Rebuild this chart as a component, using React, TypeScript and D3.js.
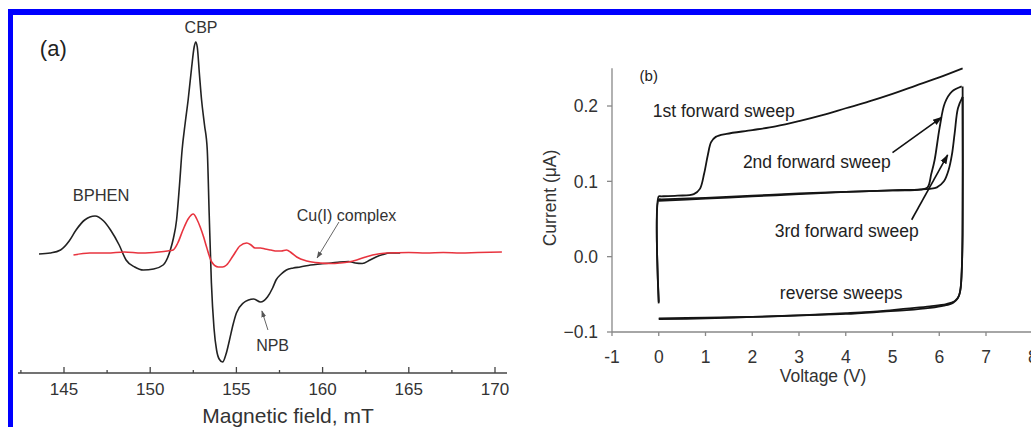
import React from "react";
import * as d3 from "d3";

const W = 1031;
const H = 427;
const FONT = "'Liberation Sans', Arial, Helvetica, sans-serif";

// ---- panel (a): EPR spectra, [field (mT), signal (a.u.)]
const fieldTicks = [145, 150, 155, 160, 165, 170];
const fieldMinorTicks = [142.5, 147.5, 152.5, 157.5, 162.5, 167.5];

const oledSpectrum: [number, number][] = [
  [143.55, -1], [144.2, 0], [144.8, 3], [145.3, 12], [145.7, 23], [146.2, 33],
  [146.8, 37], [147.3, 32], [147.7, 23], [148.2, 8], [148.6, -7], [149.1, -14],
  [149.6, -17], [150.2, -16], [150.75, -12], [151.15, 2], [151.35, 15], [151.53, 33],
  [151.7, 68], [151.85, 103], [152.03, 130], [152.2, 153], [152.4, 185], [152.55, 206],
  [152.64, 211], [152.73, 206], [152.85, 180], [152.98, 153], [153.15, 128], [153.31, 103],
  [153.42, 40], [153.55, -30], [153.7, -75], [153.85, -97], [154.0, -106], [154.2, -109],
  [154.4, -101], [154.6, -87], [154.8, -72], [155.0, -60], [155.4, -50], [155.7, -47],
  [156.0, -46], [156.4, -49], [156.8, -44], [157.1, -35], [157.3, -27], [157.6, -21],
  [157.9, -17], [158.3, -15], [158.7, -14], [159.3, -12], [159.85, -11], [160.5, -10],
  [161.0, -9], [161.5, -8.5], [161.9, -10], [162.3, -10.5], [162.75, -7], [163.1, -4],
  [163.5, -1.5], [163.9, 0], [164.5, 0],
];

const cuComplexSpectrum: [number, number][] = [
  [145.55, -2], [146.5, 0], [147.5, 0], [148.5, 1], [149.5, 0], [150.5, 1], [151.0, 2],
  [151.33, 3], [151.6, 10], [151.9, 23], [152.2, 34], [152.5, 39], [152.7, 34], [152.9, 26],
  [153.1, 16], [153.27, 6], [153.57, -9], [153.95, -14], [154.2, -14], [154.43, -12],
  [154.8, -3], [155.2, 7], [155.6, 10], [155.85, 8], [156.08, 5], [156.4, 5], [156.66, 4],
  [157.0, 3], [157.34, 2], [157.6, 2], [157.9, 3], [158.2, 0], [158.5, -4], [159.08, -8],
  [159.85, -10], [160.5, -10.5], [161.0, -10], [161.5, -9], [161.98, -7], [162.5, -4],
  [162.9, -2], [163.7, 0], [165, 0.5], [166, 0], [167, 0.5], [168, 0], [169, 0.5], [170.4, 1],
];

// ---- panel (b): I-V sweeps, [voltage (V), current (uA)]
const voltageTicks = [-1, 0, 1, 2, 3, 4, 5, 6, 7, 8];
const currentTicks = [-0.1, 0, 0.1, 0.2];

const forwardSweep1: [number, number][] = [
  [0, -0.062], [0, 0.08], [0.05, 0.0801], [0.4, 0.081], [0.75, 0.083], [0.88, 0.09], [0.97, 0.11],
  [1.05, 0.135], [1.12, 0.152], [1.22, 0.159], [1.45, 0.163], [2.0, 0.168], [2.5, 0.173],
  [3.0, 0.18], [3.5, 0.188], [4.0, 0.197], [4.5, 0.206], [5.0, 0.216], [5.5, 0.227],
  [6.0, 0.238], [6.5, 0.25],
];
const forwardSweep2: [number, number][] = [
  [0, -0.06], [0, 0.076], [0.05, 0.0761], [1, 0.078], [2, 0.081], [3, 0.084], [4, 0.086], [5, 0.088],
  [5.6, 0.089], [5.75, 0.092], [5.83, 0.11], [5.9, 0.128], [6.01, 0.172], [6.12, 0.204],
  [6.27, 0.219], [6.48, 0.226],
];
const forwardSweep3: [number, number][] = [
  [0, 0.074], [1, 0.077], [2, 0.08], [3, 0.083], [4, 0.086], [5, 0.088], [5.8, 0.09],
  [5.95, 0.092], [6.1, 0.1], [6.2, 0.115], [6.27, 0.135], [6.33, 0.164], [6.4, 0.197],
  [6.5, 0.212],
];
const reverseSweepA: [number, number][] = [
  [6.5, 0.226], [6.5, 0.03], [6.48, -0.02], [6.45, -0.045], [6.4, -0.055], [6.3, -0.061],
  [6.1, -0.065], [5.8, -0.068], [5.3, -0.071], [4.8, -0.073], [4.0, -0.076], [3.0, -0.078],
  [2.0, -0.08], [1.0, -0.081], [0, -0.082],
];
const reverseSweepB: [number, number][] = [
  [6.5, 0.212], [6.49, 0.0], [6.46, -0.04], [6.42, -0.052], [6.33, -0.059], [6.15, -0.063],
  [5.8, -0.066], [5.3, -0.069], [4.8, -0.072], [4.0, -0.075], [3.0, -0.078], [2.0, -0.08],
  [1.0, -0.082], [0, -0.083],
];

export default function App() {
  // scales, panel (a)
  const xA = d3.scaleLinear().domain([145, 170]).range([64, 495]);
  const yA = d3.scaleLinear().domain([0, 200]).range([253, 53]);
  const axisAY = 373;
  const lineA = d3
    .line<[number, number]>()
    .x((d) => xA(d[0]))
    .y((d) => yA(d[1]))
    .curve(d3.curveMonotoneX);

  // scales, panel (b)
  const xB = d3.scaleLinear().domain([-1, 8]).range([612, 1032.75]);
  const yB = d3.scaleLinear().domain([-0.1, 0.2]).range([332, 106]);
  const lineB = d3
    .line<[number, number]>()
    .x((d) => xB(d[0]))
    .y((d) => yB(d[1]))
    .curve(d3.curveCatmullRom.alpha(0.5));

  const sweeps = [forwardSweep1, forwardSweep2, forwardSweep3, reverseSweepA, reverseSweepB];

  return (
    <svg
      width={W}
      height={H}
      style={{ position: "absolute", left: 0, top: 0, background: "#fff" }}
      fontFamily={FONT}
    >
      <defs>
        <marker id="arrGray" viewBox="0 0 10 10" refX="9" refY="5" markerWidth="7" markerHeight="7" orient="auto">
          <path d="M0,1.5 L10,5 L0,8.5 z" fill="#555" />
        </marker>
        <marker id="arrBlack" viewBox="0 0 10 10" refX="9" refY="5" markerWidth="6" markerHeight="6" orient="auto">
          <path d="M0,1.5 L10,5 L0,8.5 z" fill="#111" />
        </marker>
      </defs>

      {/* blue frame (top and left edges) */}
      <line x1={8} y1={12} x2={W} y2={12} stroke="#0000ff" strokeWidth={6} />
      <line x1={10.5} y1={9} x2={10.5} y2={H} stroke="#0000ff" strokeWidth={5} />

      {/* ---------- panel (a) ---------- */}
      <g>
        <line x1={18} x2={507} y1={axisAY} y2={axisAY} stroke="#444" strokeWidth={1.3} />
        {fieldTicks.map((t) => (
          <g key={"fa" + t}>
            <line x1={xA(t)} x2={xA(t)} y1={axisAY} y2={axisAY - 6} stroke="#444" strokeWidth={1.3} />
            <text x={xA(t)} y={axisAY + 22} textAnchor="middle" fontSize={17} fill="#333">
              {t}
            </text>
          </g>
        ))}
        {fieldMinorTicks.map((t) => (
          <line key={"fm" + t} x1={xA(t)} x2={xA(t)} y1={axisAY} y2={axisAY - 3} stroke="#444" strokeWidth={1.3} />
        ))}
        <text x={288} y={423} textAnchor="middle" fontSize={21} fill="#333">
          Magnetic field, mT
        </text>

        <path d={lineA(oledSpectrum) ?? ""} fill="none" stroke="#222" strokeWidth={1.6} />
        <path d={lineA(cuComplexSpectrum) ?? ""} fill="none" stroke="#e8343f" strokeWidth={1.6} />

        <text x={xA(143.6)} y={yA(197)} fontSize={22} fill="#222">(a)</text>
        <text x={xA(152.95)} y={yA(220)} fontSize={16} textAnchor="middle" fill="#333">CBP</text>
        <text x={xA(147.15)} y={yA(52)} fontSize={16.5} textAnchor="middle" fill="#333">BPHEN</text>
        <text x={xA(158.5)} y={yA(32)} fontSize={16} fill="#333">Cu(I) complex</text>
        <text x={xA(157.1)} y={yA(-98)} fontSize={16} textAnchor="middle" fill="#333">NPB</text>

        <line
          x1={xA(160.95)} y1={yA(31)} x2={xA(159.68)} y2={yA(-5)}
          stroke="#666" strokeWidth={1} markerEnd="url(#arrGray)"
        />
        <line
          x1={xA(156.83)} y1={yA(-77)} x2={xA(156.48)} y2={yA(-58)}
          stroke="#666" strokeWidth={1} markerEnd="url(#arrGray)"
        />
      </g>

      {/* ---------- panel (b) ---------- */}
      <g>
        <line x1={xB(-1)} x2={W} y1={yB(-0.1)} y2={yB(-0.1)} stroke="#888" strokeWidth={1.3} />
        <line x1={xB(-1)} x2={xB(-1)} y1={yB(-0.1)} y2={yB(0.25)} stroke="#888" strokeWidth={1.3} />
        {voltageTicks.map((t) => (
          <g key={"vb" + t}>
            <line x1={xB(t)} x2={xB(t)} y1={yB(-0.1)} y2={yB(-0.1) + 4} stroke="#888" strokeWidth={1.3} />
            <text x={xB(t)} y={yB(-0.1) + 31} textAnchor="middle" fontSize={17.5} fill="#333">
              {t}
            </text>
          </g>
        ))}
        {currentTicks.map((t) => (
          <g key={"cb" + t}>
            <line x1={xB(-1)} x2={xB(-1) - 5} y1={yB(t)} y2={yB(t)} stroke="#888" strokeWidth={1.3} />
            <text x={598} y={yB(t)} dy="0.36em" textAnchor="end" fontSize={17.5} fill="#333">
              {d3.format(".1f")(t)}
            </text>
          </g>
        ))}
        <text x={823} y={382} textAnchor="middle" fontSize={17.5} fill="#333">
          Voltage (V)
        </text>
        <text
          transform={`translate(556,198) rotate(-90)`}
          textAnchor="middle"
          fontSize={17.5}
          fill="#333"
        >
          Current (μA)
        </text>

        {sweeps.map((s, i) => (
          <path key={"sw" + i} d={lineB(s) ?? ""} fill="none" stroke="#151515" strokeWidth={1.8} />
        ))}

        <text x={xB(-0.41)} y={yB(0.233)} fontSize={15} fill="#222">(b)</text>
        <text x={xB(-0.13)} y={yB(0.1854)} fontSize={17.5} fill="#222">1st forward sweep</text>
        <text x={xB(1.8)} y={yB(0.118)} fontSize={17.5} fill="#222">2nd forward sweep</text>
        <text x={xB(2.48)} y={yB(0.0265)} fontSize={17.5} fill="#222">3rd forward sweep</text>
        <text x={xB(2.59)} y={yB(-0.0556)} fontSize={17.5} fill="#222">reverse sweeps</text>

        <line
          x1={xB(5.0)} y1={yB(0.138)} x2={xB(6.05)} y2={yB(0.185)}
          stroke="#111" strokeWidth={1.6} markerEnd="url(#arrBlack)"
        />
        <line
          x1={xB(5.41)} y1={yB(0.049)} x2={xB(6.18)} y2={yB(0.135)}
          stroke="#111" strokeWidth={1.6} markerEnd="url(#arrBlack)"
        />
      </g>
    </svg>
  );
}
